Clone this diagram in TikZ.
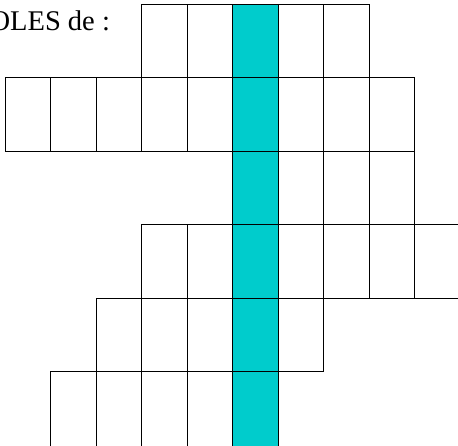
\documentclass[tikz,border=0pt]{standalone}
\usepackage{fontspec}
\setmainfont{Liberation Serif}
\definecolor{cyancol}{RGB}{0,204,204}
\tikzset{
  cell/.style={draw=black,line width=1pt},
  hlfill/.style={fill=cyancol},
  titletext/.style={inner sep=0pt,anchor=base west,font=\fontsize{28.5}{33}\selectfont}
}
\begin{document}
\begin{tikzpicture}[x=1pt,y=-1pt]
\useasboundingbox (0,0) rectangle (458,445);
\clip (0,0) rectangle (458,445);
\def\cw{45.5}
\def\rh{73.5}
% highlighted column
\fill[hlfill] (232.5,4) rectangle (278,450);
% grid rows: row / first col / last col / height
\foreach \j/\a/\b/\h in {0/3/7/73.5,1/0/8/73.5,2/5/8/73.5,3/3/9/73.5,4/2/6/73.5,5/1/5/85}{
  \foreach \k in {\a,...,\b}{
    \draw[cell] ({5+\cw*\k},{4+\rh*\j}) rectangle ++(\cw,\h);
  }
}
\node[titletext] (title) at (-10.6,30.7) {OLES de :};
\end{tikzpicture}
\end{document}
